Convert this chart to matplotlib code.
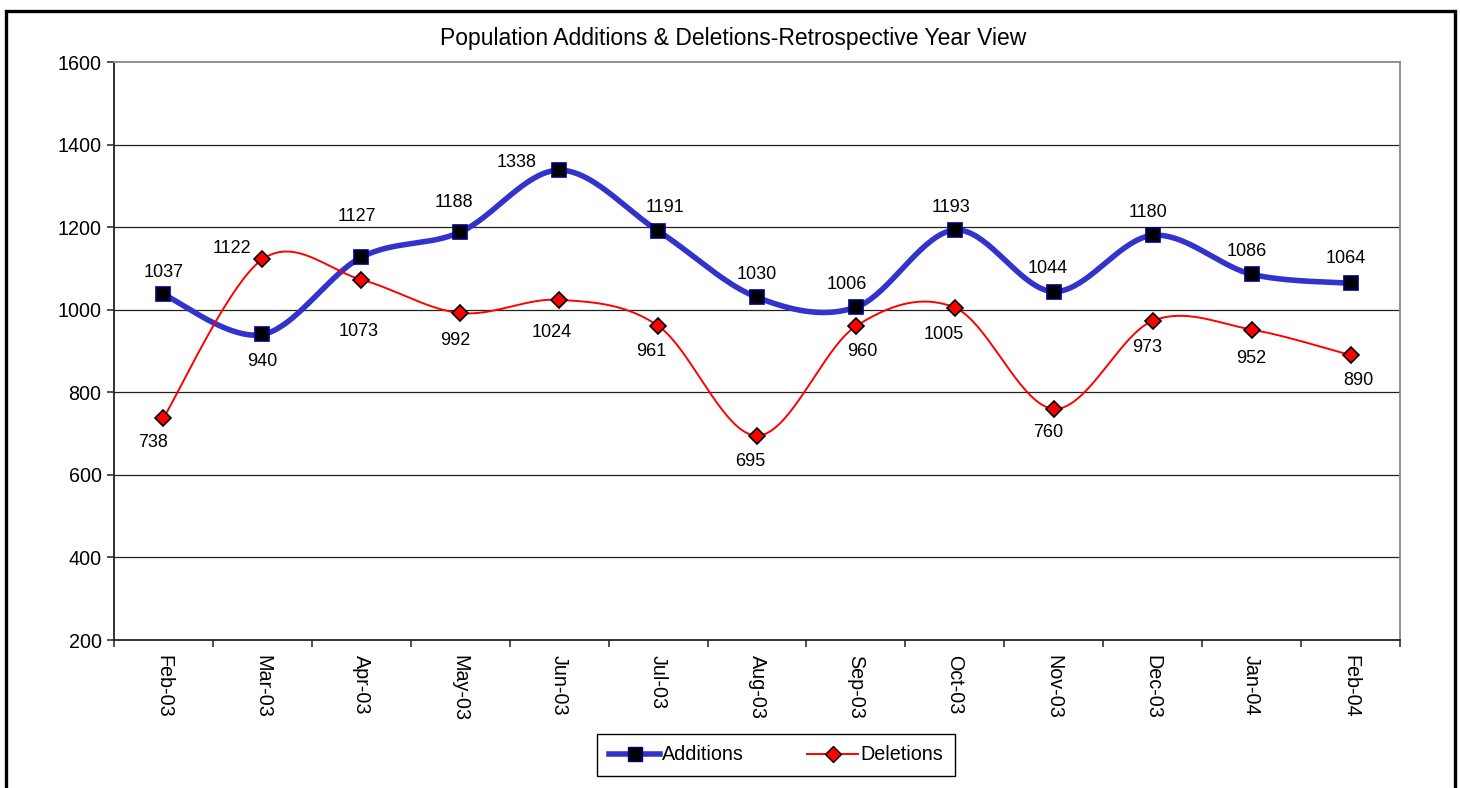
import numpy as np
import matplotlib
matplotlib.use("Agg")
import matplotlib.pyplot as plt
from matplotlib.patches import Rectangle
from matplotlib.lines import Line2D

plt.rcParams['font.family'] = ['Liberation Sans', 'DejaVu Sans']

months = ["Feb-03", "Mar-03", "Apr-03", "May-03", "Jun-03", "Jul-03", "Aug-03",
          "Sep-03", "Oct-03", "Nov-03", "Dec-03", "Jan-04", "Feb-04"]
additions = [1037, 940, 1127, 1188, 1338, 1191, 1030, 1006, 1193, 1044, 1180, 1086, 1064]
deletions = [738, 1122, 1073, 992, 1024, 961, 695, 960, 1005, 760, 973, 952, 890]
y_ticks = [200, 400, 600, 800, 1000, 1200, 1400, 1600]

# label offsets in pixels (dx, dy) - placement only
add_off = [(0, 22), (0, -27), (-4, 41), (-6, 30), (-43, 8), (7, 23), (0, 23),
           (-9, 23), (-4, 23), (-6, 23), (-5, 23), (-5, 23), (-5, 25)]
del_off = [(-10, -25), (-30, 11), (-3, -52), (-5, -27), (-7, -33), (-7, -26), (-7, -26),
           (6, -25), (-11, -27), (-6, -24), (-6, -27), (0, -29), (8, -25)]


def smooth(xs, ys, n=40):
    xs = np.asarray(xs, float)
    ys = np.asarray(ys, float)
    P = np.column_stack([xs, ys])
    out = []
    N = len(P)
    for i in range(N - 1):
        p0 = P[i - 1] if i > 0 else P[i]
        p1 = P[i]
        p2 = P[i + 1]
        p3 = P[i + 2] if i + 2 < N else P[i + 1]
        c1 = p1 + (p2 - p0) / 6.0
        c2 = p2 - (p3 - p1) / 6.0
        t = np.linspace(0, 1, n)[:, None]
        seg = ((1 - t) ** 3) * p1 + 3 * ((1 - t) ** 2) * t * c1 + 3 * (1 - t) * t ** 2 * c2 + t ** 3 * p2
        if i > 0:
            seg = seg[1:]
        out.append(seg)
    out = np.vstack(out)
    return out[:, 0], out[:, 1]


W, H = 1460, 788
fig = plt.figure(figsize=(W / 100, H / 100), dpi=100)
fig.patch.set_facecolor('white')

# outer frame
fig.patches.append(Rectangle((5.5 / W, -0.02), (1455 - 5.5) / W, 1.02 - 11 / H,
                             transform=fig.transFigure, fill=False,
                             edgecolor='black', linewidth=2.4))

ax = fig.add_axes([114 / W, 1 - 640 / H, (1400 - 114) / W, (640 - 62) / H])
x = np.arange(len(months))
ax.set_xlim(-0.5, len(months) - 0.5)
ax.set_ylim(200, 1600)

for v in y_ticks[1:-1]:
    ax.axhline(v, color='#222222', linewidth=0.9, zorder=1)

ax.spines['top'].set_color('#888888')
ax.spines['right'].set_color('#888888')
ax.spines['top'].set_linewidth(1.3)
ax.spines['right'].set_linewidth(1.3)
ax.spines['left'].set_color('#222222')
ax.spines['bottom'].set_color('#222222')
ax.spines['left'].set_linewidth(1.3)
ax.spines['bottom'].set_linewidth(1.3)

ax.set_yticks(y_ticks)
ax.set_yticklabels([str(v) for v in y_ticks], fontsize=14.2)
ax.set_xticks(np.arange(len(months) + 1) - 0.5)
ax.set_xticklabels([])
ax.set_xticks(x, minor=True)
ax.set_xticklabels(months, minor=True, rotation=270, fontsize=14.2, va='top', ha='center')
ax.tick_params(axis='x', which='minor', length=0, pad=11)
ax.tick_params(axis='x', which='major', direction='out', length=5, width=1.1, color='#222222')
ax.tick_params(axis='y', direction='out', length=5, width=1.1, color='#222222', pad=4)

sx, sy = smooth(x, additions)
ax.plot(sx, sy, color='#3333CC', linewidth=4.0, zorder=3, solid_capstyle='round')
ax.plot(x, additions, linestyle='none', marker='s', markersize=10,
        markerfacecolor='black', markeredgecolor='#000080', markeredgewidth=1.2, zorder=5)

dx_, dy_ = smooth(x, deletions)
ax.plot(dx_, dy_, color='#FF0000', linewidth=1.4, zorder=3)
ax.plot(x, deletions, linestyle='none', marker='D', markersize=8,
        markerfacecolor='#FF0000', markeredgecolor='black', markeredgewidth=1.2, zorder=5)

for i, v in enumerate(additions):
    ax.annotate(str(v), (x[i], v), xytext=add_off[i], textcoords='offset pixels',
                ha='center', va='center', fontsize=13, zorder=6)
for i, v in enumerate(deletions):
    ax.annotate(str(v), (x[i], v), xytext=del_off[i], textcoords='offset pixels',
                ha='center', va='center', fontsize=13, zorder=6)

fig.text(733 / W, 1 - 38 / H, "Population Additions & Deletions-Retrospective Year View",
         ha='center', va='center', fontsize=16.5)

handles = [
    Line2D([], [], color='#3333CC', linewidth=4.0, marker='s', markersize=10,
           markerfacecolor='black', markeredgecolor='#000080'),
    Line2D([], [], color='#FF0000', linewidth=1.4, marker='D', markersize=8,
           markerfacecolor='#FF0000', markeredgecolor='black'),
]
leg = fig.legend(handles, ["Additions", "Deletions"], loc='center',
                 bbox_to_anchor=(776 / W, 1 - 755 / H), ncol=2, fontsize=14.2,
                 frameon=True, fancybox=False, edgecolor='black', framealpha=1,
                 handlelength=2.6, handletextpad=0.1, columnspacing=3.2,
                 borderpad=0.6, borderaxespad=0)
leg.get_frame().set_linewidth(1.0)

fig.savefig("out.png", dpi=100, facecolor='white')
